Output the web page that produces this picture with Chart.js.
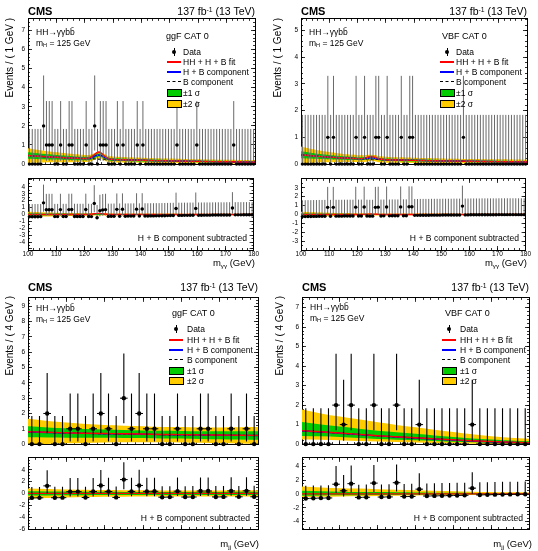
<!DOCTYPE html>
<html><head><meta charset="utf-8">
<script src="https://cdn.jsdelivr.net/npm/chart.js@4.4.1/dist/chart.umd.min.js"></script>
<style>
html,body{margin:0;padding:0;background:#fff;}
body{width:538px;height:551px;position:relative;overflow:hidden;font-family:"Liberation Sans",Arial,Helvetica,sans-serif;color:#000;}
canvas{position:absolute;}
.t{position:absolute;white-space:nowrap;line-height:1;transform:translateY(-50%);z-index:5;}
.r{transform:translate(-100%,-50%);}
.cms{font-weight:bold;font-size:11px;}
.lumi{font-size:10.5px;}
.in{font-size:8.5px;}
.cat{font-size:9px;}
.lg{font-size:8.5px;}
.sub{font-size:8.6px;}
.xt{font-size:9.5px;}
.yt{position:absolute;left:0;top:0;white-space:nowrap;font-size:10px;line-height:1;transform-origin:0 0;z-index:5;}
.mk{position:absolute;box-sizing:border-box;z-index:5;}
sup{font-size:65%;vertical-align:0.45em;line-height:0;}
sub{font-size:65%;vertical-align:-0.25em;line-height:0;}
</style></head><body>
<script>
// ---------------- DATA ----------------
// m_gammagamma bins (1 GeV), 100-180
const BINS_GG = [100.5,101.5,102.5,103.5,104.5,105.5,106.5,107.5,108.5,109.5,
 110.5,111.5,112.5,113.5,114.5,115.5,116.5,117.5,118.5,119.5,
 120.5,121.5,122.5,123.5,124.5,125.5,126.5,127.5,128.5,129.5,
 130.5,131.5,132.5,133.5,134.5,135.5,136.5,137.5,138.5,139.5,
 140.5,141.5,142.5,143.5,144.5,145.5,146.5,147.5,148.5,149.5,
 150.5,151.5,152.5,153.5,154.5,155.5,156.5,157.5,158.5,159.5,
 160.5,161.5,162.5,163.5,164.5,165.5,166.5,167.5,168.5,169.5,
 170.5,171.5,172.5,173.5,174.5,175.5,176.5,177.5,178.5,179.5];
// m_jj bins (4 GeV), 70-190
const BINS_JJ = [72,76,80,84,88,92,96,100,104,108,112,116,120,124,128,132,136,140,144,148,152,156,160,164,168,172,176,180,184,188];
const BIN_W_GG = 1, BIN_W_JJ = 4;

// ggF CAT 0, m_gammagamma
const COUNTS_GGF_MGG = [0,0,0,0,0,2,1,1,1,0, 0,1,0,0,1,1,0,0,0,0, 1,0,0,2,0,1,1,1,0,0, 0,1,0,1,0,0,0,0,1,0,
 1,0,0,0,0,0,0,0,0,0, 0,0,1,0,0,0,0,0,0,1, 0,0,0,0,0,0,0,0,0,0, 0,0,1,0,0,0,0,0,0,0];
const RESID_GGF_MGG = [-0.34,-0.34,-0.33,-0.33,-0.32,1.68,0.68,0.69,0.69,-0.31,
 -0.31,0.7,-0.3,-0.3,0.7,0.71,-0.29,-0.29,-0.29,-0.29,
 0.71,-0.29,-0.31,1.6,-0.48,0.55,0.66,0.7,-0.28,-0.27,
 -0.26,0.74,-0.25,0.75,-0.25,-0.24,-0.24,-0.23,0.77,-0.23,
 0.78,-0.22,-0.22,-0.21,-0.21,-0.2,-0.2,-0.19,-0.18,-0.17,
 -0.16,-0.15,0.86,-0.14,-0.14,-0.13,-0.13,-0.12,-0.12,0.88,
 -0.11,-0.11,-0.1,-0.1,-0.1,-0.09,-0.09,-0.08,-0.08,-0.08,
 -0.07,-0.07,0.93,-0.06,-0.06,-0.06,-0.05,-0.05,-0.05,-0.05];
// VBF CAT 0, m_gammagamma
const COUNTS_VBF_MGG = [0,0,0,0,0,0,0,0,0,1, 0,1,0,0,0,0,0,0,0,1, 0,0,1,0,0,0,1,1,0,0, 1,0,0,0,0,1,0,0,1,1,
 0,0,0,0,0,0,0,0,0,0, 0,0,0,0,0,0,0,1,0,0, 0,0,0,0,0,0,0,0,0,0, 0,0,0,0,0,0,0,0,0,0];
const RESID_VBF_MGG = [-0.24,-0.24,-0.23,-0.23,-0.22,-0.22,-0.21,-0.21,-0.2,0.8,
 -0.2,0.8,-0.19,-0.19,-0.19,-0.18,-0.18,-0.18,-0.18,0.82,
 -0.17,-0.17,0.83,-0.18,-0.19,-0.19,0.8,0.82,-0.17,-0.16,
 0.84,-0.16,-0.15,-0.15,-0.15,0.85,-0.14,-0.14,0.86,0.86,
 -0.1,-0.1,-0.09,-0.09,-0.09,-0.09,-0.08,-0.08,-0.08,-0.08,
 -0.07,-0.07,-0.07,-0.07,-0.06,-0.06,-0.06,0.94,-0.05,-0.05,
 -0.04,-0.04,-0.04,-0.04,-0.03,-0.03,-0.03,-0.03,-0.03,-0.03,
 -0.02,-0.02,-0.02,-0.02,-0.02,-0.02,-0.02,-0.02,-0.02,-0.02];
// ggF CAT 0, m_jj
const COUNTS_GGF_MJJ = [0,0,2,0,0,1,1,0,1,2,1,0,3,1,2,1,1,0,0,1,0,0,1,1,0,0,1,0,1,0];
const RESID_GGF_MJJ = [-0.75,-0.74,1.28,-0.72,-0.71,0.3,0.31,-0.69,0.32,1.33,0.33,-0.67,2.34,0.34,1.35,0.35,0.36,-0.63,-0.62,0.38,-0.61,-0.6,0.41,0.41,-0.59,-0.58,0.43,-0.57,0.44,-0.56];
// VBF CAT 0, m_jj
const COUNTS_VBF_MJJ = [0,0,0,0,2,1,2,0,0,2,0,0,2,0,0,1,0,0,0,0,0,0,1,0,0,0,0,0,0,0];
const RESID_VBF_MJJ = [-0.65,-0.62,-0.6,-0.58,1.42,0.46,1.5,-0.5,-0.48,1.58,-0.45,-0.43,1.64,-0.38,-0.36,0.7,-0.3,-0.28,-0.26,-0.24,-0.22,-0.2,0.85,-0.14,-0.12,-0.1,-0.08,-0.06,-0.05,-0.04];

// Poisson interval edges for n = 0..3
const POIS_LO = [0,0.17,0.71,1.37];
const POIS_HI = [1.84,3.30,4.64,5.92];

// fitted curves, m_gammagamma grid
const GRID_GG = [100,105,110,115,119,120,121,122,123,124,125,126,127,128,129,130,131,135,140,145,150,155,160,165,170,175,180];
const B_GGF_MGG  = [0.45,0.40,0.36,0.32,0.295,0.29,0.284,0.278,0.272,0.266,0.26,0.255,0.25,0.245,0.24,0.236,0.232,0.22,0.2,0.183,0.168,0.155,0.143,0.132,0.122,0.112,0.103];
const HB_GGF_MGG = [0.45,0.40,0.36,0.32,0.295,0.292,0.294,0.318,0.372,0.446,0.48,0.435,0.35,0.285,0.25,0.238,0.232,0.22,0.2,0.183,0.168,0.155,0.143,0.132,0.122,0.112,0.103];
const FIT_GGF_MGG= [0.45,0.40,0.36,0.32,0.295,0.292,0.304,0.348,0.442,0.566,0.63,0.555,0.42,0.315,0.26,0.238,0.232,0.22,0.2,0.183,0.168,0.155,0.143,0.132,0.122,0.112,0.103];
const HH_GGF_MGG = [0,0,0,0,0,0,0.01,0.03,0.07,0.12,0.15,0.12,0.07,0.03,0.01,0,0,0,0,0,0,0,0,0,0,0,0];
const S1_GGF_MGG = [0.17,0.14,0.12,0.10,0.09,0.09,0.088,0.086,0.084,0.082,0.08,0.078,0.076,0.074,0.072,0.07,0.069,0.065,0.06,0.055,0.05,0.048,0.046,0.044,0.042,0.04,0.04];
const S2_GGF_MGG = [0.38,0.31,0.26,0.22,0.19,0.185,0.18,0.176,0.172,0.168,0.165,0.162,0.16,0.158,0.156,0.155,0.152,0.14,0.13,0.125,0.12,0.115,0.11,0.105,0.1,0.1,0.1];

const B_VBF_MGG  = [0.35,0.30,0.26,0.23,0.21,0.205,0.20,0.196,0.192,0.188,0.184,0.18,0.176,0.172,0.168,0.165,0.162,0.152,0.14,0.13,0.12,0.112,0.105,0.098,0.092,0.086,0.08];
const HB_VBF_MGG = [0.35,0.30,0.26,0.23,0.21,0.205,0.202,0.205,0.214,0.228,0.234,0.22,0.198,0.181,0.17,0.165,0.162,0.152,0.14,0.13,0.12,0.112,0.105,0.098,0.092,0.086,0.08];
const FIT_VBF_MGG= [0.35,0.30,0.26,0.23,0.21,0.205,0.204,0.214,0.236,0.268,0.284,0.26,0.22,0.19,0.172,0.165,0.162,0.152,0.14,0.13,0.12,0.112,0.105,0.098,0.092,0.086,0.08];
const HH_VBF_MGG = [0,0,0,0,0,0,0.002,0.009,0.022,0.04,0.05,0.04,0.022,0.009,0.002,0,0,0,0,0,0,0,0,0,0,0,0];
const S1_VBF_MGG = [0.13,0.10,0.08,0.065,0.058,0.055,0.054,0.053,0.052,0.051,0.05,0.049,0.048,0.047,0.046,0.045,0.044,0.042,0.04,0.038,0.036,0.035,0.034,0.033,0.032,0.031,0.03];
const S2_VBF_MGG = [0.31,0.24,0.19,0.15,0.135,0.13,0.128,0.126,0.124,0.122,0.12,0.118,0.116,0.114,0.112,0.11,0.108,0.104,0.1,0.097,0.094,0.091,0.089,0.087,0.085,0.082,0.08];

// fitted curves, m_jj grid
const GRID_JJ = [70,80,90,100,110,120,130,140,150,160,170,180,190];
const B_GGF_MJJ  = [0.8,0.76,0.73,0.7,0.68,0.66,0.64,0.62,0.61,0.59,0.58,0.57,0.56];
const HB_GGF_MJJ = [0.8,0.76,0.73,0.7,0.68,0.665,0.645,0.62,0.61,0.59,0.58,0.57,0.56];
const FIT_GGF_MJJ= [0.81,0.77,0.74,0.71,0.69,0.675,0.655,0.63,0.62,0.6,0.59,0.58,0.57];
const HH_GGF_MJJ = [0.01,0.01,0.01,0.01,0.01,0.01,0.01,0.01,0.01,0.01,0.01,0.01,0.01];
const S1_GGF_MJJ = [0.36,0.33,0.31,0.29,0.27,0.26,0.25,0.25,0.25,0.25,0.26,0.27,0.28];
const S2_GGF_MJJ = [0.85,0.75,0.68,0.62,0.57,0.54,0.52,0.5,0.5,0.5,0.51,0.53,0.55];

const B_VBF_MJJ  = [0.68,0.62,0.56,0.49,0.42,0.36,0.31,0.26,0.21,0.16,0.12,0.09,0.06];
const HB_VBF_MJJ = [0.68,0.62,0.56,0.49,0.42,0.365,0.315,0.26,0.21,0.16,0.12,0.09,0.06];
const FIT_VBF_MJJ= [0.69,0.63,0.57,0.5,0.43,0.375,0.325,0.27,0.22,0.17,0.13,0.1,0.07];
const HH_VBF_MJJ = [0.01,0.01,0.01,0.01,0.01,0.01,0.01,0.01,0.01,0.01,0.01,0.01,0.01];
const S1UP_VBF_MJJ = [0.45,0.38,0.34,0.3,0.27,0.24,0.21,0.18,0.16,0.13,0.11,0.09,0.08];
const S1DN_VBF_MJJ = [0.26,0.22,0.2,0.18,0.16,0.14,0.12,0.1,0.09,0.07,0.06,0.05,0.04];
const S2UP_VBF_MJJ = [1.1,0.95,0.85,0.78,0.7,0.62,0.55,0.48,0.41,0.34,0.28,0.24,0.22];
const S2DN_VBF_MJJ = [0.45,0.4,0.36,0.33,0.29,0.26,0.23,0.2,0.17,0.14,0.11,0.08,0.06];

// ---------------- HELPERS ----------------
const YEL = '#ffcc00', GRN = '#00cc00';

function vErr(xs, ys, counts){
  const out=[];
  xs.forEach((x,i)=>{const n=counts[i], y=ys[i];
    out.push({x,y:y-(n-POIS_LO[n])},{x,y:y+(POIS_HI[n]-n)},{x,y:null});});
  return out;
}
function hErr(xs, ys, w){
  const out=[];
  xs.forEach((x,i)=>{out.push({x:x-w/2,y:ys[i]},{x:x+w/2,y:ys[i]},{x:x+w/2,y:null});});
  return out;
}
function pts(xs, f){ return xs.map((x,i)=>({x, y:f(i)})); }

function bandSets(xs, c, s1u, s1d, s2u, s2d){
  const base={borderWidth:0,pointRadius:0,cubicInterpolationMode:'monotone'};
  return [
    Object.assign({data:pts(xs,i=>c[i]+s2u[i]),fill:'+1',backgroundColor:YEL,order:10},base),
    Object.assign({data:pts(xs,i=>c[i]-s2d[i]),fill:false,order:10},base),
    Object.assign({data:pts(xs,i=>c[i]+s1u[i]),fill:'+1',backgroundColor:GRN,order:9},base),
    Object.assign({data:pts(xs,i=>c[i]-s1d[i]),fill:false,order:9},base)
  ];
}
function curve(xs, ys, color, width, dash, order){
  return {data:pts(xs,i=>ys[i]),borderColor:color,borderWidth:width,borderDash:dash||[],pointRadius:0,fill:false,cubicInterpolationMode:'monotone',order};
}
function dataSets(xs, ys, counts, w, rad, ecol, ew){
  return [
    {data:vErr(xs,ys,counts),borderColor:ecol,borderWidth:ew,pointRadius:0,fill:false,spanGaps:false,order:1},
    {data:hErr(xs,ys,w),borderColor:'#000',borderWidth:1,pointRadius:0,fill:false,spanGaps:false,order:1},
    {data:pts(xs,i=>ys[i]),showLine:false,pointRadius:rad,pointBackgroundColor:'#000',pointBorderWidth:0,borderColor:'#000',order:0,clip:4}
  ];
}
function isMult(v, m){ return Math.abs(v/m - Math.round(v/m)) < 1e-6; }

const LABW = 24, LABH = 12;
function mkScales(s){
  const f={family:'Liberation Sans', size:6.5};
  const A=(axis,pos,min,max,step,tl,lab,pad,sz,weight)=>({type:'linear',axis,position:pos,min,max,weight:weight||0,
    afterFit: axis==='x'?(sc=>{sc.height=sz||0;}):(sc=>{sc.width=sz||0;}),
    grid:{display:true,drawOnChartArea:false,drawTicks:true,tickLength:-tl,color:'#000',lineWidth:0.8},
    border:{display:true,color:'#000',width:1},
    ticks:{display:!!lab,stepSize:step,includeBounds:false,autoSkip:false,maxRotation:0,minRotation:0,
      padding:pad||6,font:f,color:'#000',callback:lab||(()=>'')}});
  return {
    x:A('x','bottom',s.xmin,s.xmax,s.xMaj,4,s.xLab,4,s.xLab?LABH:0,1),
    xm:A('x','bottom',s.xmin,s.xmax,s.xMin,2,null),
    xt:A('x','top',s.xmin,s.xmax,s.xMaj,4,null),
    xtm:A('x','top',s.xmin,s.xmax,s.xMin,2,null),
    y:A('y','left',s.ymin,s.ymax,s.yMaj,4,s.yLab,7,LABW,1),
    ym:A('y','left',s.ymin,s.ymax,s.yMin,2,null),
    yr:A('y','right',s.ymin,s.ymax,s.yMaj,4,null),
    yrm:A('y','right',s.ymin,s.ymax,s.yMin,2,null)
  };
}
function mkChart(fr, s, datasets, ratio){
  const pl=30, pr=8, pt=8, pb=ratio?18:8;
  const W=fr.R-fr.L+pl+pr, H=fr.B-fr.T+pt+pb;
  const cv=document.createElement('canvas');
  cv.width=W; cv.height=H;
  Object.assign(cv.style,{left:(fr.L-pl)+'px',top:(fr.T-pt)+'px',width:W+'px',height:H+'px'});
  document.body.appendChild(cv);
  new Chart(cv,{type:'line',data:{datasets},options:{
    responsive:false,animation:false,devicePixelRatio:1,
    layout:{padding:{left:pl-LABW,right:pr,top:pt,bottom:ratio?pb-LABH:pb}},
    plugins:{legend:{display:false},tooltip:{enabled:false}},
    elements:{line:{tension:0}},
    scales:mkScales(s)}});
}
function mainSets(grid,B,HB,FIT,s1u,s1d,s2u,s2d,bins,counts,w,rad,ecol,ew){
  return [].concat(
    bandSets(grid,HB,s1u,s1d,s2u,s2d),
    [curve(grid,B,'#000',1.1,[3,2],4), curve(grid,HB,'#0000ff',1.4,null,3), curve(grid,FIT,'#ff0000',1.4,null,2)],
    dataSets(bins,counts,counts,w,rad,ecol,ew));
}
function ratioSets(grid,HH,s1u,s1d,s2u,s2d,bins,resid,counts,w,rad,ecol,ew){
  const zero=grid.map(()=>0);
  return [].concat(
    bandSets(grid,zero,s1u,s1d,s2u,s2d),
    [curve(grid,HH,'#ff0000',1.4,null,2)],
    dataSets(bins,resid,counts,w,rad,ecol,ew));
}
const intLab=(lo,hi,m)=>(v=>(isMult(v,m)&&v>=lo-1e-6&&v<=hi+1e-6)?String(Math.round(v)):'');

// ---------------- CHARTS ----------------
const ECOL_T='#6a6a6a';
// top-left: ggF, m_gg
mkChart({L:28,T:16,R:255,B:167},{xmin:100,xmax:180,xMaj:10,xMin:2,ymin:0,ymax:7.6,yMaj:1,yMin:0.2,xLab:null,yLab:intLab(0,7,1)},
  mainSets(GRID_GG,B_GGF_MGG,HB_GGF_MGG,FIT_GGF_MGG,S1_GGF_MGG,S1_GGF_MGG,S2_GGF_MGG,S2_GGF_MGG,BINS_GG,COUNTS_GGF_MGG,BIN_W_GG,1.7,ECOL_T,1),false);
mkChart({L:28,T:176,R:255,B:250},{xmin:100,xmax:180,xMaj:10,xMin:2,ymin:-5.15,ymax:5.15,yMaj:1,yMin:0.5,xLab:intLab(100,180,10),yLab:intLab(-4,4,1)},
  ratioSets(GRID_GG,HH_GGF_MGG,S1_GGF_MGG,S1_GGF_MGG,S2_GGF_MGG,S2_GGF_MGG,BINS_GG,RESID_GGF_MGG,COUNTS_GGF_MGG,BIN_W_GG,1.7,ECOL_T,1),true);
// top-right: VBF, m_gg
mkChart({L:301,T:16,R:527,B:167},{xmin:100,xmax:180,xMaj:10,xMin:2,ymin:0,ymax:5.43,yMaj:1,yMin:0.2,xLab:null,yLab:intLab(0,5,1)},
  mainSets(GRID_GG,B_VBF_MGG,HB_VBF_MGG,FIT_VBF_MGG,S1_VBF_MGG,S1_VBF_MGG,S2_VBF_MGG,S2_VBF_MGG,BINS_GG,COUNTS_VBF_MGG,BIN_W_GG,1.7,ECOL_T,1),false);
mkChart({L:301,T:176,R:527,B:250},{xmin:100,xmax:180,xMaj:10,xMin:2,ymin:-4,ymax:4,yMaj:1,yMin:0.5,xLab:intLab(100,180,10),yLab:intLab(-3,3,1)},
  ratioSets(GRID_GG,HH_VBF_MGG,S1_VBF_MGG,S1_VBF_MGG,S2_VBF_MGG,S2_VBF_MGG,BINS_GG,RESID_VBF_MGG,COUNTS_VBF_MGG,BIN_W_GG,1.7,ECOL_T,1),true);
// bottom-left: ggF, m_jj
mkChart({L:28,T:295,R:258,B:447},{xmin:70,xmax:190,xMaj:20,xMin:4,ymin:0,ymax:9.55,yMaj:1,yMin:0.2,xLab:null,yLab:intLab(0,9,1)},
  mainSets(GRID_JJ,B_GGF_MJJ,HB_GGF_MJJ,FIT_GGF_MJJ,S1_GGF_MJJ,S1_GGF_MJJ,S2_GGF_MJJ,S2_GGF_MJJ,BINS_JJ,COUNTS_GGF_MJJ,BIN_W_JJ,2.2,'#000',1.1),false);
mkChart({L:28,T:455,R:258,B:529},{xmin:70,xmax:190,xMaj:20,xMin:4,ymin:-6,ymax:6,yMaj:2,yMin:0.5,xLab:intLab(80,180,20),yLab:intLab(-6,4,2)},
  ratioSets(GRID_JJ,HH_GGF_MJJ,S1_GGF_MJJ,S1_GGF_MJJ,S2_GGF_MJJ,S2_GGF_MJJ,BINS_JJ,RESID_GGF_MJJ,COUNTS_GGF_MJJ,BIN_W_JJ,2.2,'#000',1.1),true);
// bottom-right: VBF, m_jj
mkChart({L:302,T:295,R:529,B:447},{xmin:70,xmax:190,xMaj:20,xMin:4,ymin:0,ymax:7.5,yMaj:1,yMin:0.2,xLab:null,yLab:intLab(0,7,1)},
  mainSets(GRID_JJ,B_VBF_MJJ,HB_VBF_MJJ,FIT_VBF_MJJ,S1UP_VBF_MJJ,S1DN_VBF_MJJ,S2UP_VBF_MJJ,S2DN_VBF_MJJ,BINS_JJ,COUNTS_VBF_MJJ,BIN_W_JJ,2.2,'#000',1.1),false);
mkChart({L:302,T:455,R:529,B:529},{xmin:70,xmax:190,xMaj:20,xMin:4,ymin:-5.1,ymax:5.25,yMaj:2,yMin:0.5,xLab:intLab(80,180,20),yLab:intLab(-4,4,2)},
  ratioSets(GRID_JJ,HH_VBF_MJJ,S1UP_VBF_MJJ,S1DN_VBF_MJJ,S2UP_VBF_MJJ,S2DN_VBF_MJJ,BINS_JJ,RESID_VBF_MJJ,COUNTS_VBF_MJJ,BIN_W_JJ,2.2,'#000',1.1),true);

// ---------------- TEXT OVERLAYS ----------------
let html='';
function txt(cls,x,y,s,right){ html+=`<div class="t ${cls}${right?' r':''}" style="left:${x}px;top:${y}px">${s}</div>`; }
function ytitle(x,top,s){ html+=`<div class="yt" style="transform:translate(${x}px,${top}px) rotate(-90deg) translate(-100%,-50%)">${s}</div>`; }
function legend(mx,tx,ys){
  html+=`<div class="mk" style="left:${mx-0.5}px;top:${ys[0]-4}px;width:1px;height:8px;background:#000"></div>`;
  html+=`<div class="mk" style="left:${mx-2}px;top:${ys[0]-2}px;width:4px;height:4px;border-radius:50%;background:#000"></div>`;
  html+=`<div class="mk" style="left:${mx-7}px;top:${ys[1]-1}px;width:14px;height:2px;background:#ff0000"></div>`;
  html+=`<div class="mk" style="left:${mx-7}px;top:${ys[2]-1}px;width:14px;height:2px;background:#0000ff"></div>`;
  html+=`<div class="mk" style="left:${mx-7}px;top:${ys[3]-1}px;width:14px;height:0;border-top:1.5px dashed #000"></div>`;
  html+=`<div class="mk" style="left:${mx-7}px;top:${ys[4]-4}px;width:15px;height:8px;background:${GRN};border:1px solid #000"></div>`;
  html+=`<div class="mk" style="left:${mx-7}px;top:${ys[5]-4}px;width:15px;height:8px;background:${YEL};border:1px solid #000"></div>`;
  const L=['Data','HH + H + B fit','H + B component','B component','±1 σ','±2 σ'];
  L.forEach((s,i)=>txt('lg',tx,ys[i],s));
}
const HHT='HH→γγbb&#772;', MH='m<sub>H</sub> = 125 GeV', LUMI='137 fb<sup>-1</sup> (13 TeV)';
// top-left
txt('cms',28,11,'CMS'); txt('lumi',255,11,LUMI,true);
txt('in',36,31.5,HHT); txt('in',36,42.5,MH); txt('cat',166,36,'ggF CAT 0');
legend(174,183,[52,62,72,82,93,104]);
ytitle(10,18,'Events / ( 1 GeV )');
txt('sub',247,238,'H + B component subtracted',true);
txt('xt',255,263,'m<sub>γγ</sub> (GeV)',true);
// top-right
txt('cms',301,11,'CMS'); txt('lumi',527,11,LUMI,true);
txt('in',309,31.5,HHT); txt('in',309,42.5,MH); txt('cat',442,36,'VBF CAT 0');
legend(447,456,[52,62,72,82,93,104]);
ytitle(278,18,'Events / ( 1 GeV )');
txt('sub',519,238,'H + B component subtracted',true);
txt('xt',527,263,'m<sub>γγ</sub> (GeV)',true);
// bottom-left
txt('cms',28,287,'CMS'); txt('lumi',258,287,LUMI,true);
txt('in',36,308,HHT); txt('in',36,319,MH); txt('cat',172,313,'ggF CAT 0');
legend(176,187,[329,340,350,360,371,381]);
ytitle(10,296,'Events / ( 4 GeV )');
txt('sub',250,518,'H + B component subtracted',true);
txt('xt',259,544,'m<sub>jj</sub> (GeV)',true);
// bottom-right
txt('cms',302,287,'CMS'); txt('lumi',529,287,LUMI,true);
txt('in',310,307,HHT); txt('in',310,318,MH); txt('cat',445,313,'VBF CAT 0');
legend(449,460,[329,340,350,360,371,381]);
ytitle(280,296,'Events / ( 4 GeV )');
txt('sub',523,518,'H + B component subtracted',true);
txt('xt',532,544,'m<sub>jj</sub> (GeV)',true);

const ov=document.createElement('div'); ov.innerHTML=html; document.body.appendChild(ov);
</script>
</body></html>
